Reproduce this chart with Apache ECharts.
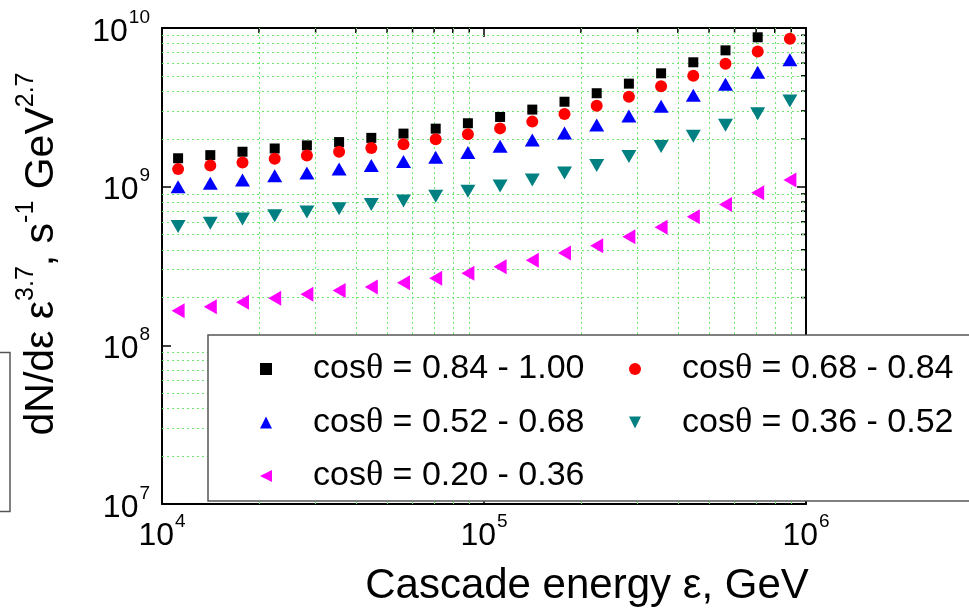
<!DOCTYPE html>
<html>
<head>
<meta charset="utf-8">
<script src="https://cdn.jsdelivr.net/npm/echarts@6/dist/echarts.min.js"></script>
<style>
  html, body { margin: 0; padding: 0; background: #fff; }
  #chart-container { width: 969px; height: 613px; }
</style>
</head>
<body>
<div id="chart-container"></div>
<script>
// cascade energy (GeV), 0.1 decade steps
var energy = [11220, 14125, 17783, 22387, 28184, 35481, 44668, 56234, 70795, 89125,
  112202, 141254, 177828, 223872, 281838, 354813, 446684, 562341, 707946, 891251];

var cos084_100 = [1.51e9, 1.58e9, 1.66e9, 1.74e9, 1.82e9, 1.91e9, 2.03e9, 2.16e9, 2.32e9, 2.51e9,
  2.75e9, 3.06e9, 3.43e9, 3.88e9, 4.46e9, 5.18e9, 6.08e9, 7.23e9, 8.74e9];
var cos068_084 = [1.29e9, 1.36e9, 1.42e9, 1.50e9, 1.57e9, 1.66e9, 1.75e9, 1.85e9, 1.99e9, 2.14e9,
  2.33e9, 2.57e9, 2.87e9, 3.24e9, 3.69e9, 4.29e9, 5.00e9, 5.96e9, 7.10e9, 8.57e9];
var cos052_068 = [1.00e9, 1.05e9, 1.10e9, 1.17e9, 1.22e9, 1.29e9, 1.36e9, 1.44e9, 1.53e9, 1.64e9,
  1.80e9, 1.97e9, 2.18e9, 2.45e9, 2.79e9, 3.21e9, 3.77e9, 4.42e9, 5.26e9, 6.31e9];
var cos036_052 = [5.60e8, 5.88e8, 6.25e8, 6.56e8, 6.93e8, 7.27e8, 7.71e8, 8.13e8, 8.69e8, 9.35e8,
  1.01e9, 1.10e9, 1.22e9, 1.36e9, 1.55e9, 1.79e9, 2.08e9, 2.44e9, 2.88e9, 3.47e9];
var cos020_036 = [1.65e8, 1.75e8, 1.87e8, 1.98e8, 2.10e8, 2.22e8, 2.33e8, 2.48e8, 2.65e8, 2.85e8,
  3.13e8, 3.44e8, 3.82e8, 4.25e8, 4.84e8, 5.55e8, 6.47e8, 7.71e8, 9.16e8, 1.10e9];

var seriesNames = ["cosθ = 0.84 - 1.00", "cosθ = 0.68 - 0.84", "cosθ = 0.52 - 0.68",
  "cosθ = 0.36 - 0.52", "cosθ = 0.20 - 0.36"];

// minor grid positions
var xMinor = [2e4, 3e4, 4e4, 5e4, 6e4, 7e4, 8e4, 9e4, 2e5, 3e5, 4e5, 5e5, 6e5, 7e5, 8e5, 9e5];
var yMinor = [2e7, 3e7, 4e7, 5e7, 6e7, 7e7, 8e7, 9e7, 2e8, 3e8, 4e8, 5e8, 6e8, 7e8, 8e8, 9e8,
  2e9, 3e9, 4e9, 5e9, 6e9, 7e9, 8e9, 9e9];

var FONT = "Liberation Sans";

function pairs(ys) {
  return ys.map(function (y, i) { return [energy[i], y]; });
}

function powLabel(v) {
  var e = Math.round(Math.log10(v));
  return "{b|10}{s|" + e + "}";
}

var tickRich = {
  b: { fontFamily: FONT, fontSize: 32, color: "#000", lineHeight: 40, verticalAlign: "bottom" },
  s: { fontFamily: FONT, fontSize: 19, color: "#000", lineHeight: 40, verticalAlign: "top", padding: [0, 0, 0, 1] }
};

var dom = document.getElementById("chart-container");
var myChart = echarts.init(dom, null, { renderer: "canvas" });

var gridLines = xMinor.map(function (v) { return { xAxis: v }; })
  .concat(yMinor.map(function (v) { return { yAxis: v }; }));

var tickData = xMinor.map(function (v) { return [v, 1e10, 0]; })
  .concat(yMinor.map(function (v) { return [1e6, v, 1]; }));

var legendText = {
  fontFamily: FONT, fontSize: 34, color: "#000", lineHeight: 34,
  padding: [0, 0, 0, 36],
  rich: {
    t: { fontFamily: "Liberation Serif", fontSize: 36, color: "#000", lineHeight: 34 }
  }
};
function legendFmt(name) { return name.replace("θ", "{t|θ}"); }

var option = {
  animation: false,
  grid: { left: 162, right: 163, top: 28, bottom: 109 },
  xAxis: [
    {
      type: "log", min: 1e4, max: 1e6, logBase: 10,
      name: "Cascade energy ε, GeV",
      nameLocation: "middle", nameGap: 61,
      nameTextStyle: { fontFamily: FONT, fontSize: 42, color: "#000", padding: [0, 0, 0, 206] },
      axisLine: { show: true, lineStyle: { color: "#000", width: 2 } },
      axisTick: { show: true, inside: true, length: 9, lineStyle: { color: "#000", width: 1.5 } },
      axisLabel: { margin: 8, formatter: powLabel, rich: tickRich },
      splitLine: { show: false }
    },
    {
      type: "log", min: 1e4, max: 1e6, logBase: 10, position: "top",
      axisLine: { show: true, lineStyle: { color: "#000", width: 2 } },
      axisTick: { show: true, inside: true, length: 9, lineStyle: { color: "#000", width: 1.5 } },
      axisLabel: { show: false },
      splitLine: { show: false }
    }
  ],
  yAxis: [
    {
      type: "log", min: 1e7, max: 1e10, logBase: 10,
      name: "{m|dN/dε ε}{s|3.7}{m|, s}{s|-1}{m| GeV}{s|2.7}",
      nameLocation: "middle", nameGap: 100,
      nameTextStyle: {
        padding: [0, 0, 0, 24],
        rich: {
          m: { fontFamily: FONT, fontSize: 41, color: "#000", lineHeight: 48, verticalAlign: "bottom" },
          s: { fontFamily: FONT, fontSize: 25, color: "#000", lineHeight: 48, verticalAlign: "top" }
        }
      },
      axisLine: { show: true, lineStyle: { color: "#000", width: 2 } },
      axisTick: { show: true, inside: true, length: 9, lineStyle: { color: "#000", width: 1.5 } },
      axisLabel: { margin: 12, formatter: powLabel, rich: tickRich },
      splitLine: { show: false }
    },
    {
      type: "log", min: 1e7, max: 1e10, logBase: 10, position: "right",
      axisLine: { show: true, lineStyle: { color: "#000", width: 2 } },
      axisTick: { show: true, inside: true, length: 9, lineStyle: { color: "#000", width: 1.5 } },
      axisLabel: { show: false },
      splitLine: { show: false }
    }
  ],
  legend: [
    {
      // this one also draws the white legend box
      orient: "vertical", left: 208, top: 335,
      padding: [16, 440, 7, 52],
      backgroundColor: "#fff", borderColor: "#555", borderWidth: 1.5, borderRadius: 0,
      itemWidth: 12, itemHeight: 12, itemGap: 17.5,
      selectedMode: false,
      data: [
        { name: seriesNames[0], icon: "rect" },
        { name: seriesNames[2], icon: "triangle" },
        { name: seriesNames[4], icon: "path://M2,0L2,2L0,1Z" }
      ],
      formatter: legendFmt,
      textStyle: legendText,
      z: 20
    },
    {
      orient: "vertical", left: 629, top: 351, padding: 0,
      itemWidth: 12, itemHeight: 12, itemGap: 17.5,
      selectedMode: false,
      data: [
        { name: seriesNames[1], icon: "circle" },
        { name: seriesNames[3], icon: "path://M0,0L2,0L1,2Z" }
      ],
      formatter: legendFmt,
      textStyle: legendText,
      z: 30
    }
  ],
  graphic: [
    {
      type: "rect",
      shape: { x: -20, y: 352.5, width: 30, height: 159 },
      style: { fill: "#fff", stroke: "#555", lineWidth: 1.5 }
    }
  ],
  series: [
    {
      type: "custom",
      coordinateSystem: "cartesian2d",
      silent: true,
      clip: false,
      z: 1,
      data: tickData,
      renderItem: function (params, api) {
        var p = api.coord([api.value(0), api.value(1)]);
        var horiz = api.value(2) === 1;
        return {
          type: "line",
          shape: horiz
            ? { x1: p[0] - 5, y1: p[1], x2: p[0], y2: p[1] }
            : { x1: p[0], y1: p[1], x2: p[0], y2: p[1] + 5 },
          style: { stroke: "#000", lineWidth: 1.5 }
        };
      },
      markLine: {
        silent: true,
        symbol: ["none", "none"],
        label: { show: false },
        lineStyle: { color: "#6de86d", width: 1, type: [2, 3] },
        emphasis: { disabled: true },
        data: gridLines
      }
    },
    {
      name: seriesNames[0], type: "scatter", z: 10,
      symbol: "rect", symbolSize: 10,
      itemStyle: { color: "#000000", opacity: 1 },
      data: pairs(cos084_100)
    },
    {
      name: seriesNames[1], type: "scatter", z: 10,
      symbol: "circle", symbolSize: 12,
      itemStyle: { color: "#ff0000", opacity: 1 },
      data: pairs(cos068_084)
    },
    {
      name: seriesNames[2], type: "scatter", z: 10,
      symbol: "triangle", symbolSize: [15, 13],
      itemStyle: { color: "#0000ff", opacity: 1 },
      data: pairs(cos052_068)
    },
    {
      name: seriesNames[3], type: "scatter", z: 10,
      symbol: "triangle", symbolSize: [15, 13], symbolRotate: 180,
      itemStyle: { color: "#008080", opacity: 1 },
      data: pairs(cos036_052)
    },
    {
      name: seriesNames[4], type: "scatter", z: 10,
      symbol: "triangle", symbolSize: [15, 13], symbolRotate: 90,
      itemStyle: { color: "#ff00ff", opacity: 1 },
      data: pairs(cos020_036)
    }
  ]
};

myChart.setOption(option);
window.addEventListener("resize", myChart.resize);
</script>
</body>
</html>
